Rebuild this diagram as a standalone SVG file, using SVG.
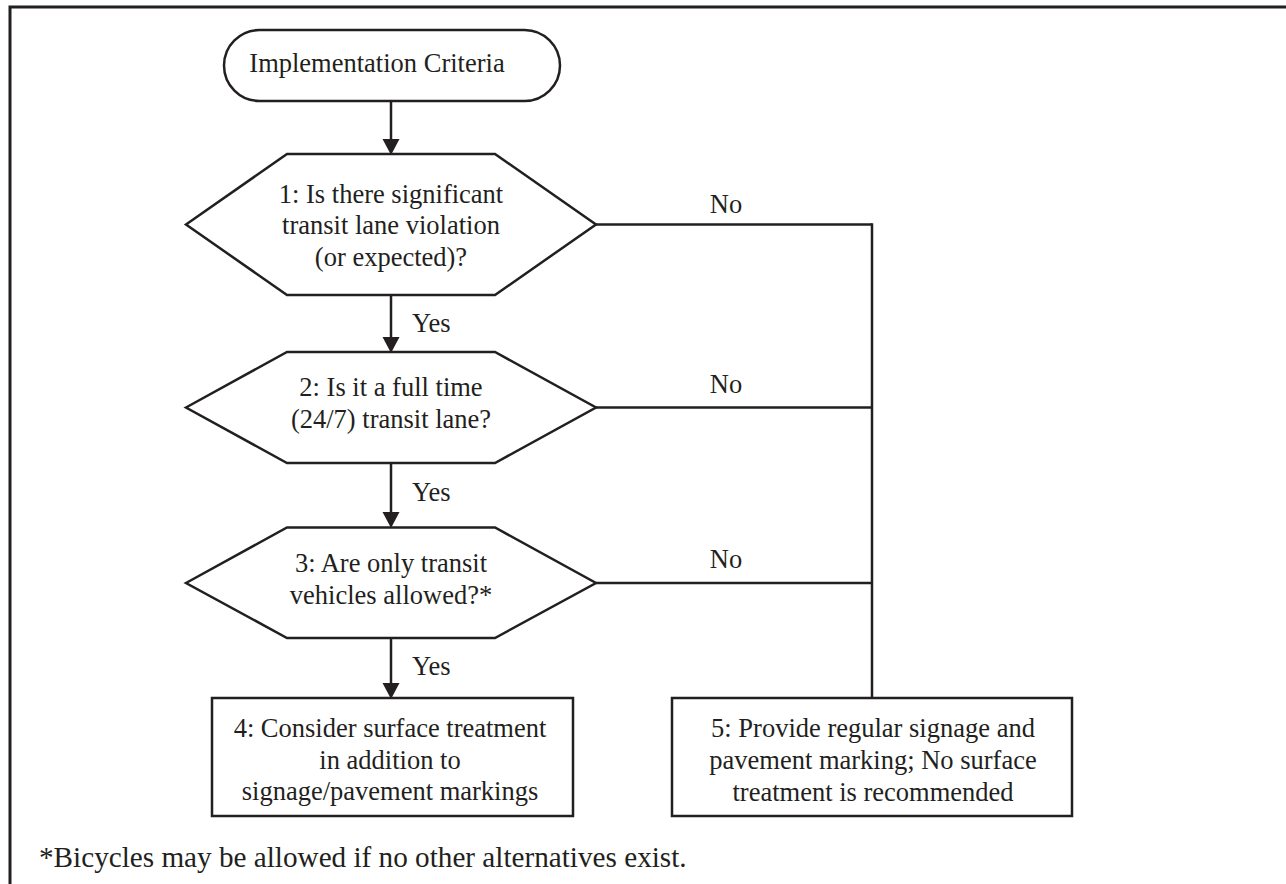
<svg xmlns="http://www.w3.org/2000/svg" width="1286" height="884" viewBox="0 0 1286 884">
<defs>
<style>
.s{fill:#fff;stroke:#231f20;stroke-width:2.5}
.c{fill:none;stroke:#231f20;stroke-width:2.5}
.h{fill:#231f20}
.t{font-family:"Liberation Serif","Times New Roman",serif;font-size:26.5px;fill:#231f20;text-anchor:middle}
.l{text-anchor:start}
.f{font-size:29.2px}
</style>
</defs>
<rect width="1286" height="884" fill="#fff"/>
<path d="M10,884 V7 H1286" fill="none" stroke="#231f20" stroke-width="3"/>
<g id="connectors">
<line x1="391" y1="101" x2="391" y2="142" class="c"/>
<line x1="391" y1="295" x2="391" y2="340" class="c"/>
<line x1="391" y1="463" x2="391" y2="515" class="c"/>
<line x1="391" y1="638" x2="391" y2="686" class="c"/>
<line x1="596" y1="224.5" x2="872" y2="224.5" class="c"/>
<line x1="596" y1="407.5" x2="872" y2="407.5" class="c"/>
<line x1="596" y1="583" x2="872" y2="583" class="c"/>
<line x1="872" y1="223.25" x2="872" y2="698" class="c"/>
<path class="h" d="M382.5,139 L399.5,139 L391,155 z"/>
<path class="h" d="M382.5,337 L399.5,337 L391,353 z"/>
<path class="h" d="M382.5,512 L399.5,512 L391,528 z"/>
<path class="h" d="M382.5,683 L399.5,683 L391,699 z"/>
<text class="t" x="726" y="213">No</text>
<text class="t" x="726" y="393">No</text>
<text class="t" x="726" y="568">No</text>
<text class="t l" x="412" y="332">Yes</text>
<text class="t l" x="412" y="501">Yes</text>
<text class="t l" x="412" y="675">Yes</text>
</g>
<g id="n0">
<rect x="224" y="30" width="336" height="71" rx="35.5" class="s"/>
<text class="t" x="377" y="72">Implementation Criteria</text>
</g>
<g id="n1">
<polygon points="186,224.5 287,154 495,154 596,224.5 495,295 287,295" class="s"/>
<text class="t" x="391" y="202.5">1: Is there significant</text>
<text class="t" x="391" y="234">transit lane violation</text>
<text class="t" x="391" y="265.5">(or expected)?</text>
</g>
<g id="n2">
<polygon points="186,407.5 287,352 495,352 596,407.5 495,463 287,463" class="s"/>
<text class="t" x="391" y="396">2: Is it a full time</text>
<text class="t" x="391" y="428">(24/7) transit lane?</text>
</g>
<g id="n3">
<polygon points="186,583 287,527.5 495,527.5 596,583 495,638 287,638" class="s"/>
<text class="t" x="391" y="571.5">3: Are only transit</text>
<text class="t" x="391" y="603.5">vehicles allowed?*</text>
</g>
<g id="n4">
<rect x="212" y="698" width="361" height="118" class="s"/>
<text class="t" x="390" y="737">4: Consider surface treatment</text>
<text class="t" x="390" y="768.5">in addition to</text>
<text class="t" x="390" y="800">signage/pavement markings</text>
</g>
<g id="n5">
<rect x="672" y="698" width="400" height="118" class="s"/>
<text class="t" x="873" y="737">5: Provide regular signage and</text>
<text class="t" x="873" y="769">pavement marking; No surface</text>
<text class="t" x="873" y="801">treatment is recommended</text>
</g>
<text class="t l f" x="39" y="867">*Bicycles may be allowed if no other alternatives exist.</text>
</svg>
